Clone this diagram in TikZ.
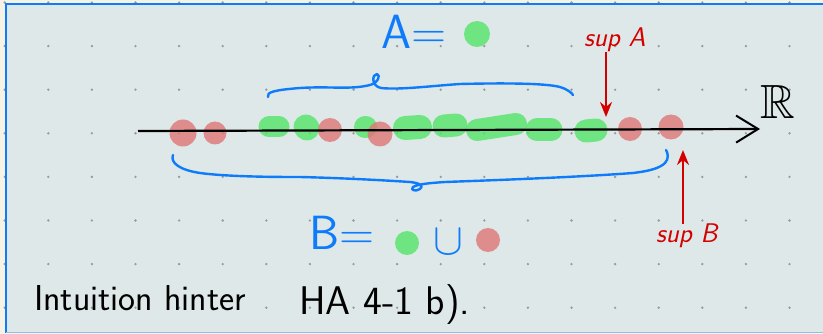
\documentclass[tikz,border=0pt]{standalone}
\usepackage{amssymb}
\usetikzlibrary{arrows.meta}
\definecolor{pg}{RGB}{246,242,230}
\definecolor{bg}{RGB}{222,232,232}
\definecolor{bl}{RGB}{14,124,250}
\definecolor{lb}{RGB}{140,190,240}
\definecolor{rd}{RGB}{212,0,0}
\definecolor{gc}{RGB}{82,229,104}
\definecolor{pc}{RGB}{222,117,117}
\definecolor{dc}{RGB}{150,155,155}
\tikzset{pen/.style={draw=bl,line width=2.4pt,line cap=round,line join=round},
 gs/.style={draw=gc,opacity=.8,line cap=round},
 gd/.style={fill=gc,opacity=.8},rdt/.style={fill=pc,opacity=.8},
 hw/.style={inner sep=0pt,font=\fontsize{36}{38}\selectfont\sffamily},
 big/.style={hw,text=bl,font=\fontsize{48}{48}\selectfont\sffamily},
 sp/.style={inner sep=0pt,text=rd,font=\fontsize{27}{28}\selectfont\sffamily\slshape},
 axis/.style={line width=2.2pt,-{Straight Barb[length=22pt,width=27pt,line width=2pt]}},
 rarr/.style={draw=rd,line width=2.2pt,-{Stealth[length=15pt,width=12pt]}}}
\begin{document}
\begin{tikzpicture}[x=1pt,y=-1pt]
\useasboundingbox (0,0) rectangle (823,334);
% page and grid
\fill[pg] (0,0) rectangle (823,334);
\fill[bg] (5.5,4) rectangle (823,332.5);
\foreach \i in {0,...,18}{\foreach \j in {0,...,7}{\fill[dc] (4.7+43.6*\i,2.5+43.6*\j) circle (1.3);}}
\draw[bl,line width=2pt] (823,4)--(5.5,4)--(5.5,332.5);
\draw[lb,line width=1.5pt] (5.5,332.5)--(823,332.5);
% the set A and B on the line
\foreach \a/\b/\c/\d/\w in {269/127/279/127/21,306/127/307/128/25,365/127/366/127/22,
 405/128/420/127/24,444/126/456/125/23,477/130/516/124/22,537/130/551/130/23,586/131/596/130/23}
 {\draw[gs,line width=\w] (\a,\b)--(\c,\d);}
\foreach \x/\y/\r in {183/133/13.5,215/133/11.5,330/130/12,380/134/12.5,630/129/12,671/127/12.5}
 {\fill[rdt] (\x,\y) circle (\r);}
\coordinate (axL) at (138,131);
\coordinate (axR) at (760,129);
\draw[axis] (axL)--(axR);
\node[inner sep=0pt,font=\fontsize{48}{48}\selectfont] (reals) at (778,102) {$\mathbb{R}$};
% braces
\draw[pen] (268,97) .. controls (266,92) and (275,90) .. (300,88) .. controls (330,86) and (350,90) .. (370,85)
 .. controls (378,83) and (381,75) .. (377,74) .. controls (372,74) and (371,86) .. (381,88)
 .. controls (400,90) and (430,86) .. (460,84) .. controls (500,83) and (545,83) .. (560,87)
 .. controls (567,89) and (572,93) .. (573,95);
\draw[pen] (173,155) .. controls (170,163) and (180,170) .. (200,173) .. controls (230,177) and (280,177) .. (300,177)
 .. controls (340,178) and (380,180) .. (410,182) .. controls (420,183) and (424,186) .. (420,189)
 .. controls (415,192) and (410,190) .. (413,187) .. controls (418,184) and (430,183) .. (445,182)
 .. controls (500,180) and (580,177) .. (633,173) .. controls (650,171) and (660,168) .. (665,163)
 .. controls (669,159) and (668,153) .. (666,150);
% labels
\node[big,anchor=base west] (aeq) at (381,49) {A=};
\fill[gd] (477,34) circle (13);
\node[big,anchor=base west] (beq) at (309,250) {B=};
\fill[gd] (407,243) circle (12);
\node[inner sep=0pt,text=bl,font=\Huge,scale=1.8] (cup) at (448,242) {$\cup$};
\fill[rdt] (488,240) circle (12);
\node[sp,anchor=base west] (supA) at (584,47) {sup A};
\coordinate (tA) at (606,117);
\draw[rarr] (supA.south -| tA)--(tA);
\node[sp,anchor=base west] (supB) at (656,243) {sup B};
\coordinate (tB) at (683,150);
\draw[rarr] (supB.north -| tB)--(tB);
\node[hw,anchor=base west] (note) at (34,310) {Intuition hinter};
\node[hw,anchor=base west,font=\fontsize{40}{40}\selectfont\sffamily] (ha) at (299,314) {HA 4-1 b).};
\end{tikzpicture}
\end{document}
